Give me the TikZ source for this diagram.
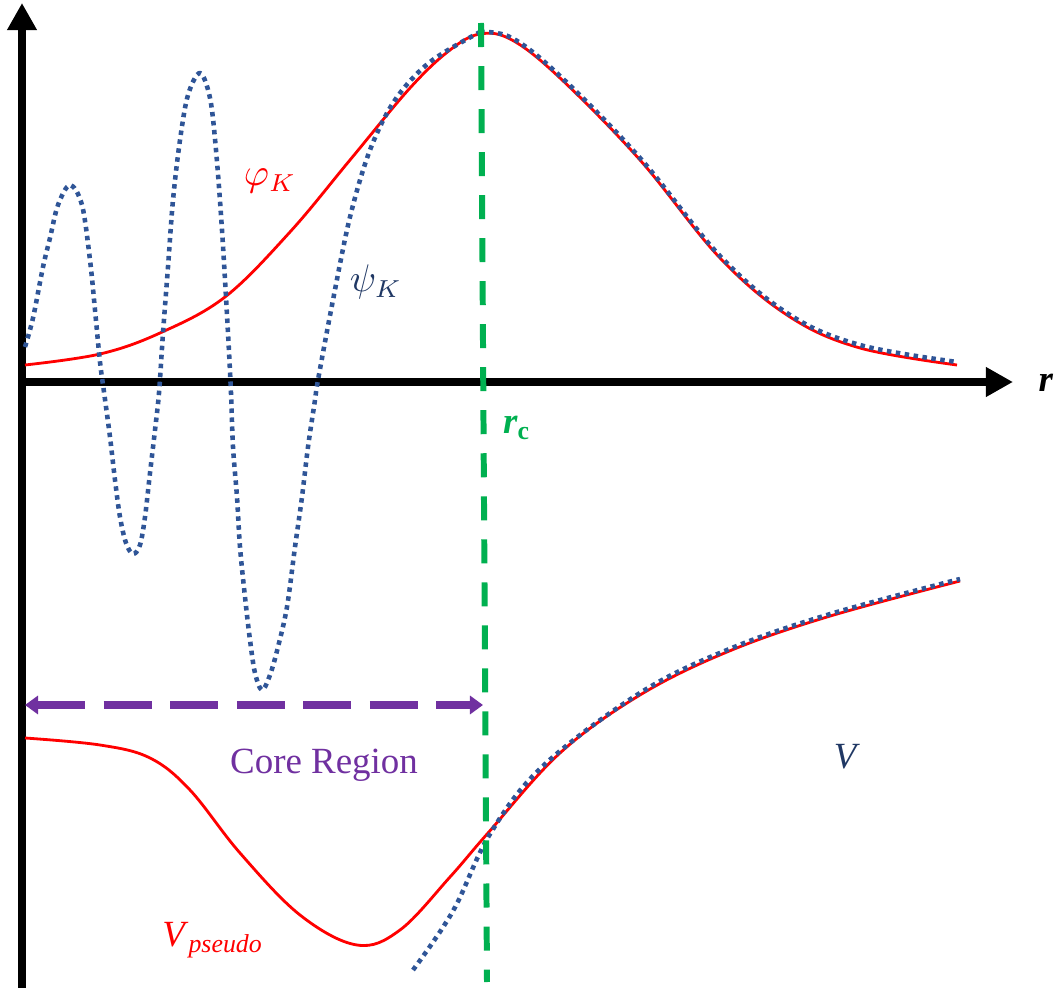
\documentclass[tikz,border=0pt]{standalone}
\usepackage{fontspec}
\setmainfont{Liberation Serif}
\usetikzlibrary{arrows.meta}
\definecolor{cred}{HTML}{FF0000}
\definecolor{cdots}{HTML}{2F5597}
\definecolor{cnavy}{HTML}{203864}
\definecolor{cgreen}{HTML}{00B050}
\definecolor{cpurple}{HTML}{7030A0}
\tikzset{
  every picture/.style={line join=round},
  axis/.style={draw=black, line width=2pt, -{Triangle[length=0.27cm, width=0.28cm]}},
  pseudo/.style={draw=cred, line width=0.8pt},
  allel/.style={draw=cdots, line width=1.3pt, dash pattern=on 0.045cm off 0.045cm},
  cutoff/.style={draw=cgreen, line width=1.7pt, dash pattern=on 0.24cm off 0.19cm},
  core/.style={draw=cpurple, line width=2pt, dash pattern=on 0.48cm off 0.185cm, {Triangle[length=0.13cm, width=0.18cm]}-{Triangle[length=0.13cm, width=0.18cm]}},
  lab/.style={inner sep=0pt, font=\fontsize{10.5}{12}\selectfont},
}

\begin{document}
\begin{tikzpicture}[x=0.01cm, y=-0.01cm]
\useasboundingbox (0,0) rectangle (1060,988);
% axes
\coordinate (o) at (22,382);
\coordinate (ybot) at (22,988);
\coordinate (ytop) at (22,3);
\coordinate (xend) at (1013,382);
\draw[axis] (ybot) -- (ytop);
\draw[axis] (o) -- (xend);
\node[lab] (rlab) at (1046,383) {\textbf{\textit{r}}};
% wave functions
\draw[pseudo] plot[smooth, tension=0.6] coordinates {(25,365) (100,354) (160,333) (225,297) (290,232) (350,160) (410,88) (450,50) (480,34) (512,40) (560,78) (640,160) (720,258) (790,317) (860,348) (957,365)};
\draw[allel] plot[smooth, tension=0.55] coordinates {(25,347) (33,318) (43,267) (50,238) (58,205) (70,185) (82,205) (90,260) (95,310) (100,362) (104,392) (110,437) (115,480) (120,517) (126,543) (133,554) (140,545) (145,517) (150,473) (155,430) (159,393) (163,333) (168,267) (173,200) (180,140) (188,95) (200,73) (210,98) (216,150) (222,230) (228,333) (231,393) (233,447) (237,497) (240,547) (245,597) (250,640) (255,673) (262,690) (270,675) (278,647) (287,607) (295,547) (302,497) (308,447) (315,400) (318,380) (333,300) (350,217) (370,150) (395,100) (430,62) (480,32)};
\draw[allel] plot[smooth, tension=0.6] coordinates {(480,32) (512,38) (560,76) (640,158) (720,256) (790,315) (860,345) (957,362)};
\node[lab, text=cred] (phik) at (270,181) {$\varphi_K$};
\node[lab, text=cnavy] (psik) at (376,282) {$\psi_K$};
% potentials
\draw[pseudo] plot[smooth, tension=0.6] coordinates {(25,738) (100,745) (150,758) (190,790) (240,853) (300,915) (357,945) (400,930) (450,877) (488,833) (560,753) (640,695) (727,652) (827,617) (960,581)};
\draw[allel] plot[smooth, tension=0.6] coordinates {(413,970) (453,911) (490,834) (543,766) (640,693) (727,650) (827,615) (960,579)};
\node[lab, text=cnavy] (vtrue) at (847,757) {\textit{V}};
\node[lab, text=cred] (vps) at (213,940) {\textit{V}\textsubscript{\textit{pseudo}}};
% cutoff radius
\coordinate (rctop) at (481,23);
\coordinate (rcbot) at (487,982);
\draw[cutoff] (rctop) -- (rcbot);
\node[lab, text=cgreen] (rclab) at (517,428) {\textbf{\textit{r}}\textsubscript{\textbf{c}}};
% core region
\coordinate (cl) at (25,705);
\coordinate (cr) at (483,705);
\draw[core] (cl) -- (cr);
\node[lab, text=cpurple] (core) at (324,765) {Core Region};
\end{tikzpicture}
\end{document}
